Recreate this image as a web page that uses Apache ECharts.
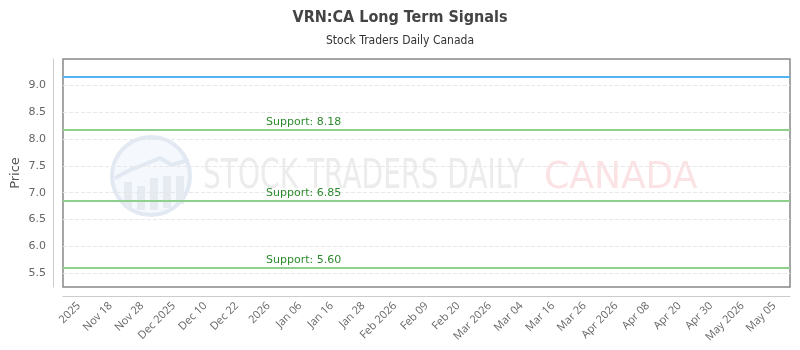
<!DOCTYPE html>
<html>
<head>
<meta charset="utf-8">
<script src="https://cdn.jsdelivr.net/npm/echarts@6/dist/echarts.min.js"></script>
<style>
  html, body { margin: 0; padding: 0; background: #fff; }
  #chart { width: 800px; height: 350px; }
</style>
</head>
<body>
<div id="chart"></div>
<script>
var dates = ['2025', 'Nov 18', 'Nov 28', 'Dec 2025', 'Dec 10', 'Dec 22', '2026', 'Jan 06', 'Jan 16', 'Jan 28',
    'Feb 2026', 'Feb 09', 'Feb 20', 'Mar 2026', 'Mar 04', 'Mar 16', 'Mar 26', 'Apr 2026', 'Apr 08', 'Apr 20',
    'Apr 30', 'May 2026', 'May 05'];
var priceLevel = 9.16;
var supportLevels = [8.18, 6.85, 5.60];
var yTicks = [5.5, 6.0, 6.5, 7.0, 7.5, 8.0, 8.5, 9.0];
var yMin = 5.245;
var yMax = 9.49;

var dom = document.getElementById('chart');
var chart = echarts.init(dom);

var supportLines = supportLevels.map(function (v) {
    return {
        yAxis: v,
        label: { formatter: 'Support: ' + v.toFixed(2) }
    };
});

var option = {
    animation: false,
    title: {
        text: 'VRN:CA Long Term Signals',
        subtext: 'Stock Traders Daily Canada',
        left: 'center',
        top: 5,
        itemGap: 9,
        textStyle: { fontFamily: 'DejaVu Sans Condensed', fontSize: 16, fontWeight: 'bold', color: '#444' },
        subtextStyle: { fontFamily: 'DejaVu Sans Condensed', fontSize: 12, color: '#333' }
    },
    graphic: [{
        type: 'group',
        silent: true,
        z: -1,
        children: [
            { type: 'circle', shape: { cx: 151, cy: 176, r: 39 }, style: { fill: 'rgba(235,241,250,0.5)', stroke: '#e2e9f3', lineWidth: 4 } },
            { type: 'rect', shape: { x: 124, y: 182, width: 8, height: 26 }, style: { fill: '#e6ebf2' } },
            { type: 'rect', shape: { x: 137, y: 186, width: 8, height: 24 }, style: { fill: '#e6ebf2' } },
            { type: 'rect', shape: { x: 150, y: 178, width: 8, height: 32 }, style: { fill: '#e6ebf2' } },
            { type: 'rect', shape: { x: 163, y: 176, width: 8, height: 32 }, style: { fill: '#e6ebf2' } },
            { type: 'rect', shape: { x: 176, y: 176, width: 8, height: 28 }, style: { fill: '#e6ebf2' } },
            { type: 'polyline', shape: { points: [[115, 178], [130, 170], [148, 163], [160, 158], [172, 165], [188, 160]] }, style: { stroke: '#e2e9f3', lineWidth: 4, fill: null } },
            { type: 'text', x: 203, y: 178, scaleX: 0.78, style: { text: 'STOCK TRADERS DAILY', fontFamily: 'DejaVu Sans Condensed', fontSize: 40, fill: '#ececec', verticalAlign: 'middle' } },
            { type: 'text', x: 544, y: 178, scaleX: 0.95, style: { text: 'CANADA', fontFamily: 'DejaVu Sans', fontSize: 38, fill: '#fbe3e5', verticalAlign: 'middle' } }
        ]
    }, {
        // axis title, placed by hand
        type: 'text',
        x: 16,
        y: 173,
        rotation: Math.PI / 2,
        style: { text: 'Price', fontFamily: 'DejaVu Sans', fontSize: 13, fill: '#555', align: 'center', verticalAlign: 'middle' }
    }],
    grid: {
        left: 63,
        right: 10,
        top: 59,
        bottom: 63,
        outerBoundsMode: 'none',
        containLabel: false,
        show: true,
        borderColor: '#888',
        borderWidth: 1.5,
        backgroundColor: 'transparent'
    },
    xAxis: {
        type: 'category',
        data: dates,
        boundaryGap: true,
        offset: 9,
        axisLine: { lineStyle: { color: '#ccc', width: 1 } },
        axisTick: { show: false },
        axisLabel: { rotate: 45, margin: 8, interval: 0, fontFamily: 'Open Sans', fontSize: 11, color: '#666' },
        splitLine: { show: false }
    },
    yAxis: {
        type: 'value',
        min: yMin,
        max: yMax,
        offset: 10,
        axisLine: { show: true, lineStyle: { color: '#ccc', width: 1 } },
        axisTick: { show: false, customValues: yTicks },
        axisLabel: {
            customValues: yTicks,
            margin: 7,
            fontFamily: 'DejaVu Sans',
            fontSize: 11,
            color: '#666',
            formatter: function (v) { return v.toFixed(1); }
        },
        splitLine: { show: true, lineStyle: { color: '#e8e8e8', type: 'dashed', width: 1 } }
    },
    series: [{
        name: 'Price',
        type: 'line',
        data: [],
        markLine: {
            silent: true,
            symbol: 'none',
            label: { show: false },
            lineStyle: { color: '#55b2f2', width: 2, type: 'solid' },
            data: [{ yAxis: priceLevel }]
        }
    }, {
        name: 'Support',
        type: 'line',
        data: [],
        markLine: {
            silent: true,
            symbol: 'none',
            lineStyle: { color: '#8fd08f', width: 2, type: 'solid' },
            label: {
                show: true,
                position: 'insideStartTop',
                distance: [203, 2],
                fontFamily: 'DejaVu Sans',
                fontSize: 11,
                color: '#2e8b2e'
            },
            data: supportLines
        }
    }]
};

chart.setOption(option);
</script>
</body>
</html>
